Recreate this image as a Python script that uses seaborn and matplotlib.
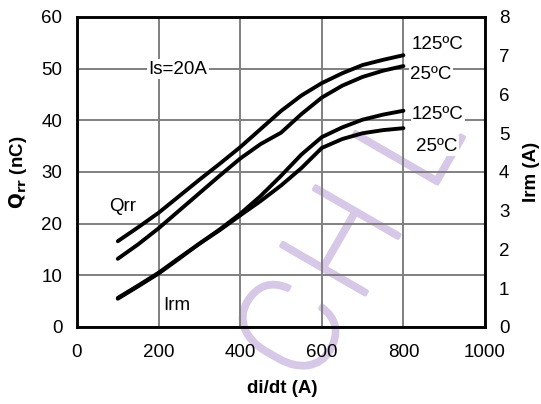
import matplotlib
matplotlib.use("Agg")
import matplotlib.pyplot as plt
import matplotlib.patheffects as pe
import seaborn as sns
import pandas as pd

# ---- data ----
didt = [100, 150, 200, 250, 300, 350, 400, 450, 500, 550, 600, 650, 700, 750, 800]
qrr_125 = [16.6, 19.3, 22.1, 25.3, 28.5, 31.6, 34.8, 38.3, 41.8, 44.8, 47.2, 49.1, 50.7, 51.7, 52.6]
qrr_25 = [13.2, 16.0, 19.1, 22.5, 25.9, 29.3, 32.6, 35.4, 37.6, 41.2, 44.4, 46.7, 48.4, 49.6, 50.5]
irm_125 = [0.73, 1.05, 1.38, 1.76, 2.15, 2.52, 2.92, 3.38, 3.90, 4.45, 4.90, 5.15, 5.35, 5.48, 5.58]
irm_25 = [0.75, 1.07, 1.40, 1.78, 2.15, 2.50, 2.88, 3.25, 3.65, 4.10, 4.62, 4.85, 5.00, 5.08, 5.13]

x_ticks = [0, 200, 400, 600, 800, 1000]
q_ticks = [0, 10, 20, 30, 40, 50, 60]
i_ticks = [0, 1, 2, 3, 4, 5, 6, 7, 8]

sns.set_style("white")
plt.rcParams['font.family'] = ['Liberation Sans', 'DejaVu Sans']
plt.rcParams.update({"text.color": "black", "axes.labelcolor": "black",
                     "xtick.color": "black", "ytick.color": "black"})
FS = 13.5

fig = plt.figure(figsize=(5.41, 4.04), dpi=100)

# watermark layer behind everything
wm = fig.add_axes([0, 0, 1, 1], zorder=-5)
wm.set_axis_off()
wm.set_xlim(0, 541)
wm.set_ylim(404, 0)
wm_color = "#d6c8e6"
for ch, (px, py) in zip("CHL", [(298, 332), (350, 246), (416, 146)]):
    wm.text(px, py, ch, fontsize=98, color=wm_color, rotation=60,
            ha="center", va="center", rotation_mode="anchor",
            family="Roboto", fontweight="light",
            path_effects=[pe.withStroke(linewidth=3, foreground=wm_color)])

ax = fig.add_axes([0.1423, 0.1906, 0.7542, 0.7674])
ax.patch.set_alpha(0)
ax2 = ax.twinx()

dq = pd.DataFrame({"x": didt * 2, "y": qrr_125 + qrr_25,
                   "s": ["125"] * len(didt) + ["25"] * len(didt)})
di = pd.DataFrame({"x": didt * 2, "y": irm_125 + irm_25,
                   "s": ["125"] * len(didt) + ["25"] * len(didt)})

sns.lineplot(data=dq, x="x", y="y", units="s", estimator=None, color="black",
             lw=2.8, ax=ax, legend=False)
sns.lineplot(data=di, x="x", y="y", units="s", estimator=None, color="black",
             lw=2.8, ax=ax2, legend=False)

ax.set_xlim(0, 1000)
ax.set_ylim(0, 60)
ax2.set_ylim(0, 8)
ax.set_xticks(x_ticks)
ax.set_yticks(q_ticks)
ax2.set_yticks(i_ticks)
ax.grid(True, color="#808080", lw=1.4)
ax2.grid(False)
ax.set_axisbelow(True)

for a in (ax, ax2):
    a.tick_params(length=0, labelsize=FS, labelcolor="black")
    for sp in a.spines.values():
        sp.set_color("black")
        sp.set_linewidth(1.8)
ax.tick_params(axis="x", pad=12.5)
ax.tick_params(axis="y", pad=10.5)
ax2.tick_params(axis="y", pad=10)

ax.set_xlabel("di/dt (A)", fontsize=FS, fontweight="bold", color="black")
ax.set_ylabel(r"$\mathbf{Q_{rr}}$ (nC)", fontsize=FS, fontweight="bold", color="black")
ax2.set_ylabel("Irm (A)", fontsize=FS, fontweight="bold", rotation=90, color="black")
ax.xaxis.set_label_coords((282 - 77) / 408, (327 - 388) / 310)
ax.xaxis.label.set_va("center")
ax.yaxis.set_label_coords((18 - 77) / 408, 0.5)
ax.yaxis.label.set_va("center")
ax2.yaxis.set_label_coords((531 - 77) / 408, 0.5)
ax2.yaxis.label.set_va("center")

bb = dict(facecolor="white", edgecolor="none", pad=1.0)
ax.text(247, 49.9, "Is=20A", fontsize=FS, ha="center", va="center", bbox=bb, zorder=4)
ax.text(112, 23.4, "Qrr", fontsize=FS, ha="center", va="center", zorder=4)
ax.text(245, 4.25, "Irm", fontsize=FS, ha="center", va="center", bbox=bb, zorder=4)
ax2.text(821, 54.7 / 7.5, "125ºC", fontsize=FS, ha="left", va="center", bbox=bb)
ax2.text(816, 48.8 / 7.5, "25ºC", fontsize=FS, ha="left", va="center", bbox=bb)
ax2.text(821, 41.2 / 7.5, "125ºC", fontsize=FS, ha="left", va="center", bbox=bb)
ax2.text(831, 35.0 / 7.5, "25ºC", fontsize=FS, ha="left", va="center", bbox=bb)

fig.savefig("out.png", dpi=100, facecolor="white")
